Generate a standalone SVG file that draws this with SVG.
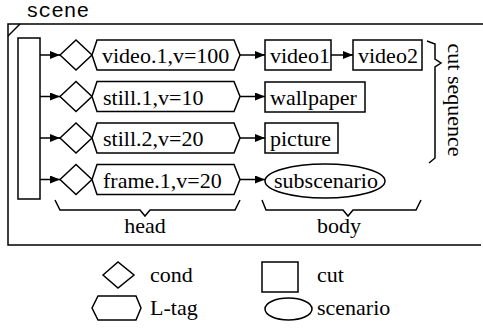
<svg xmlns="http://www.w3.org/2000/svg" width="483" height="335" viewBox="0 0 483 335">
<defs>
<marker id="ah" viewBox="0 0 10 8" refX="10" refY="4" markerWidth="10" markerHeight="8" markerUnits="userSpaceOnUse" orient="auto">
<path d="M0,0 L10,4 L0,8 Z" fill="#000"/>
</marker>
</defs>
<rect width="483" height="335" fill="#fff"/>
<g id="frame">
<text x="26" y="17" font-family="Liberation Mono" font-size="21">scene</text>
<path d="M483,24 H8 V245 H481" fill="none" stroke="#000" stroke-width="1.5"/>
<path d="M8,36 L20,24" fill="none" stroke="#000" stroke-width="1.5"/>
</g>
<g id="connectors">
<line x1="40" y1="55" x2="60" y2="55" stroke="#000" stroke-width="1.5" marker-end="url(#ah)"/>
<line x1="40" y1="96.5" x2="60" y2="96.5" stroke="#000" stroke-width="1.5" marker-end="url(#ah)"/>
<line x1="40" y1="138" x2="60" y2="138" stroke="#000" stroke-width="1.5" marker-end="url(#ah)"/>
<line x1="40" y1="179.5" x2="60" y2="179.5" stroke="#000" stroke-width="1.5" marker-end="url(#ah)"/>
<line x1="240" y1="55" x2="265" y2="55" stroke="#000" stroke-width="1.5" marker-end="url(#ah)"/>
<line x1="331" y1="55" x2="353" y2="55" stroke="#000" stroke-width="1.5" marker-end="url(#ah)"/>
<line x1="240" y1="96.5" x2="265" y2="96.5" stroke="#000" stroke-width="1.5" marker-end="url(#ah)"/>
<line x1="240" y1="138" x2="265" y2="138" stroke="#000" stroke-width="1.5" marker-end="url(#ah)"/>
<line x1="240" y1="179.5" x2="265" y2="179.5" stroke="#000" stroke-width="1.5" marker-end="url(#ah)"/>
</g>
<g id="bar"><rect x="18" y="38" width="22" height="161" fill="#fff" stroke="#000" stroke-width="1.5"/></g>
<g id="cond1"><path d="M60,55 L76,40 L92,55 L76,70 Z" fill="#fff" stroke="#000" stroke-width="1.5"/></g>
<g id="cond2"><path d="M60,96.5 L76,81.5 L92,96.5 L76,111.5 Z" fill="#fff" stroke="#000" stroke-width="1.5"/></g>
<g id="cond3"><path d="M60,138 L76,123 L92,138 L76,153 Z" fill="#fff" stroke="#000" stroke-width="1.5"/></g>
<g id="cond4"><path d="M60,179.5 L76,164.5 L92,179.5 L76,194.5 Z" fill="#fff" stroke="#000" stroke-width="1.5"/></g>
<g id="ltag1"><path d="M92,55 L97,40 H234 L240,55 L234,70 H97 Z" fill="#fff" stroke="#000" stroke-width="1.5"/><text x="102" y="63" font-family="Liberation Serif" font-size="22">video.1,v=100</text></g>
<g id="ltag2"><path d="M92,96.5 L97,81.5 H234 L240,96.5 L234,111.5 H97 Z" fill="#fff" stroke="#000" stroke-width="1.5"/><text x="103" y="104.5" font-family="Liberation Serif" font-size="22">still.1,v=10</text></g>
<g id="ltag3"><path d="M92,138 L97,123 H234 L240,138 L234,153 H97 Z" fill="#fff" stroke="#000" stroke-width="1.5"/><text x="103" y="146" font-family="Liberation Serif" font-size="22">still.2,v=20</text></g>
<g id="ltag4"><path d="M92,179.5 L97,164.5 H234 L240,179.5 L234,194.5 H97 Z" fill="#fff" stroke="#000" stroke-width="1.5"/><text x="103" y="187.5" font-family="Liberation Serif" font-size="22">frame.1,v=20</text></g>
<g id="video1"><rect x="265" y="40" width="66" height="30" fill="#fff" stroke="#000" stroke-width="1.5"/><text x="270" y="63" font-family="Liberation Serif" font-size="22">video1</text></g>
<g id="video2"><rect x="353" y="40" width="69" height="30" fill="#fff" stroke="#000" stroke-width="1.5"/><text x="358" y="63" font-family="Liberation Serif" font-size="22">video2</text></g>
<g id="wallpaper"><rect x="265" y="82" width="100" height="30" fill="#fff" stroke="#000" stroke-width="1.5"/><text x="270" y="104.5" font-family="Liberation Serif" font-size="22">wallpaper</text></g>
<g id="picture"><rect x="265" y="123" width="73" height="30" fill="#fff" stroke="#000" stroke-width="1.5"/><text x="270" y="146" font-family="Liberation Serif" font-size="22">picture</text></g>
<g id="subscenario"><ellipse cx="325" cy="181" rx="60" ry="17" fill="#fff" stroke="#000" stroke-width="1.5"/><text x="326" y="188" text-anchor="middle" font-family="Liberation Serif" font-size="22">subscenario</text></g>
<g id="cutseq">
<path d="M427,41 L435,44 V59 L441,63 L435,67 V158 L429,163" fill="none" stroke="#000" stroke-width="1.5"/>
<text transform="translate(448,100) rotate(90)" text-anchor="middle" font-family="Liberation Serif" font-size="22">cut sequence</text>
</g>
<g id="head">
<path d="M55,200 L60,210 H140 L145,216 L150,210 H235 L240,200" fill="none" stroke="#000" stroke-width="1.5"/>
<text x="145" y="233" text-anchor="middle" font-family="Liberation Serif" font-size="22">head</text>
</g>
<g id="body">
<path d="M262,200 L266,210 H343 L348,216 L353,210 H416 L421,200" fill="none" stroke="#000" stroke-width="1.5"/>
<text x="339" y="233" text-anchor="middle" font-family="Liberation Serif" font-size="22">body</text>
</g>
<g id="legend">
<path d="M103,275 L118,262 L134,275 L118,288 Z" fill="#fff" stroke="#000" stroke-width="1.5"/>
<text x="150" y="282" font-family="Liberation Serif" font-size="22">cond</text>
<rect x="262" y="262" width="36" height="30" fill="#fff" stroke="#000" stroke-width="1.5"/>
<text x="317" y="282" font-family="Liberation Serif" font-size="22">cut</text>
<path d="M92,308 L98,296 H136 L141,308 L136,320 H98 Z" fill="#fff" stroke="#000" stroke-width="1.5"/>
<text x="150" y="315" font-family="Liberation Serif" font-size="22">L-tag</text>
<ellipse cx="288.5" cy="309" rx="23.5" ry="11" fill="#fff" stroke="#000" stroke-width="1.5"/>
<text x="317" y="315" font-family="Liberation Serif" font-size="22">scenario</text>
</g>
</svg>
